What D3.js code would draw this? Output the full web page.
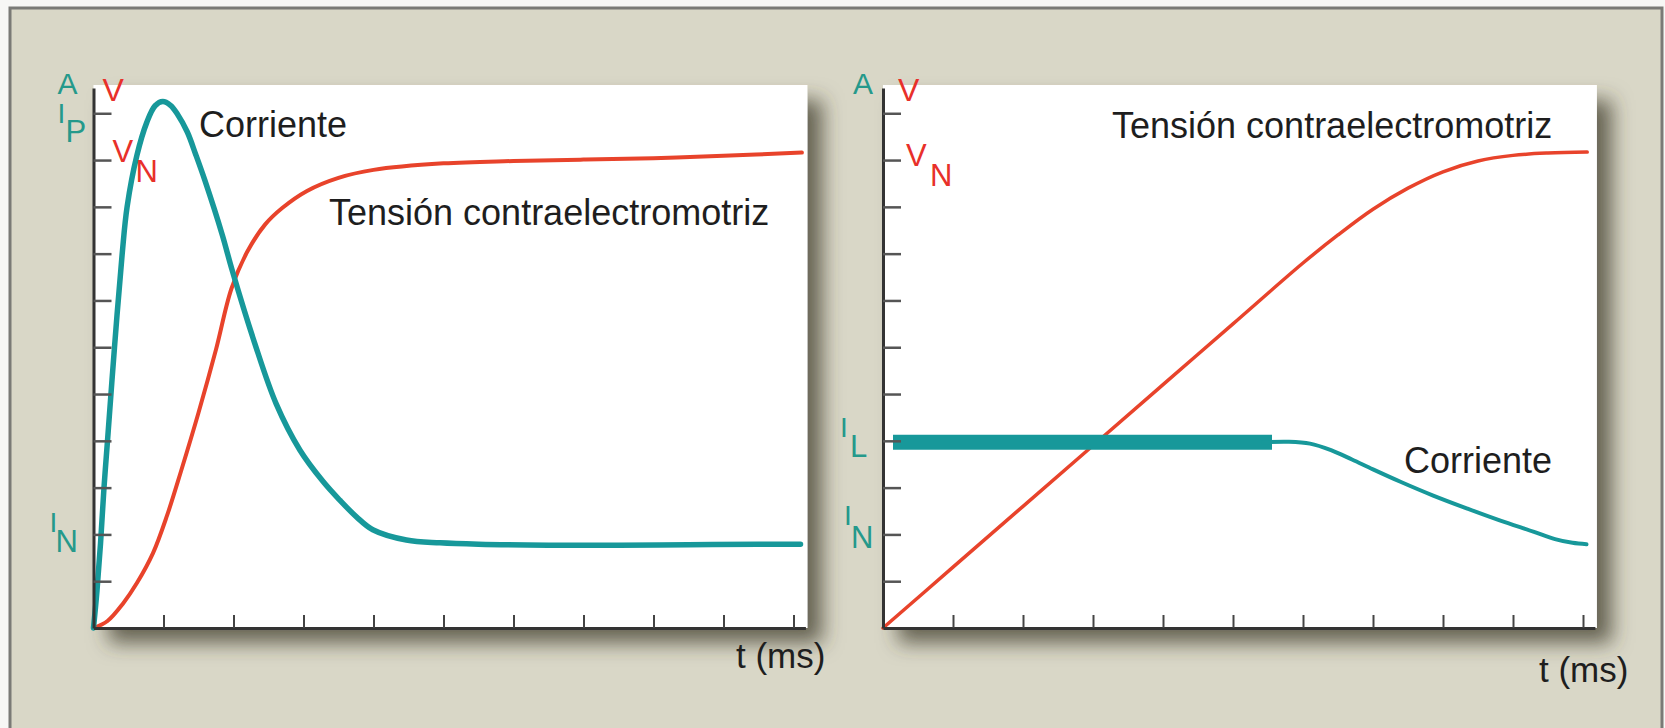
<!DOCTYPE html>
<html><head><meta charset="utf-8">
<script src="https://cdn.jsdelivr.net/npm/d3@7"></script>
<style>
body{margin:0;background:#f7f7f5;}
svg{display:block;}
text{font-family:"Liberation Sans",Arial,Helvetica,sans-serif;}
</style>
</head><body>
<svg id="c" width="1665" height="728"></svg>
<script>
// ---------------- data ----------------
const timeTicks = [1,2,3,4,5,6,7,8,9,10];
const levelTicks = [1,2,3,4,5,6,7,8,9,10,11];
const xAxisTitle = "t (ms)";
const curveNames = ["Corriente", "Tensión contraelectromotriz"];

// left panel: current with inrush peak, back-EMF rising
const leftCurrent = [
  [0,0],[0.05,0.8],[0.1,1.8],[0.15,3.0],[0.2,4.0],[0.3,6.0],[0.41,8.0],[0.48,9.0],
  [0.62,10.1],[0.76,10.8],[0.88,11.16],[0.99,11.25],[1.1,11.17],[1.2,10.98],
  [1.34,10.6],[1.46,10.12],[1.59,9.57],[1.84,8.4],[1.98,7.65],[2.3,6.1],[2.61,4.79],[2.95,3.8],
  [3.28,3.13],[3.52,2.73],[3.76,2.37],[3.99,2.1],[4.47,1.88],[4.95,1.82],[5.5,1.79],
  [6.5,1.77],[7.5,1.77],[8.5,1.78],[9.5,1.79],[10.1,1.79]
];
const leftVoltage = [
  [0,0],[0.2,0.15],[0.42,0.52],[0.62,0.96],[0.85,1.6],[1.05,2.4],[1.25,3.35],
  [1.5,4.6],[1.75,5.95],[1.97,7.25],[2.2,8.05],[2.45,8.62],[2.7,8.98],[3.05,9.34],
  [3.5,9.62],[4.0,9.79],[5.0,9.93],[6.0,9.98],[7.0,10.01],[8.0,10.04],[9.0,10.09],[10.12,10.16]
];

// right panel: limited current, back-EMF ramp
const rightVoltage = [
  [0,0],[1,1.3],[2,2.6],[3,3.9],[4,5.2],[5,6.5],[6,7.8],[6.5,8.4],[7,8.95],
  [7.5,9.4],[8,9.75],[8.5,9.98],[9,10.1],[9.5,10.15],[10.06,10.17]
];
const rightCurrentLimit = [[0.25,3.97],[5.45,3.97]];
const rightCurrent = [
  [5.43,3.97],[5.8,3.98],[6.1,3.94],[6.4,3.8],[6.7,3.6],[7.0,3.39],[7.4,3.12],
  [7.86,2.83],[8.35,2.55],[8.81,2.3],[9.29,2.06],[9.6,1.9],[9.85,1.82],[10.05,1.79]
];

// axis level labels: [main, sub, series, level]
const leftAxisLabels = [["I","P","current",11],["V","N","voltage",10],["I","N","current",2]];
const rightAxisLabels = [["V","N","voltage",10],["I","L","current",4],["I","N","current",2]];
const unitLabels = [["A","current"],["V","voltage"]];

// ---------------- drawing ----------------
const svg = d3.select("#c");
const colors = {current:"#17989a", voltage:"#e8432b"};
const labelColors = {current:"#25998b", voltage:"#e8302a"};

const defs = svg.append("defs");
const f = defs.append("filter").attr("id","sh").attr("x","-10%").attr("y","-10%").attr("width","130%").attr("height","130%");
f.append("feDropShadow").attr("dx",15).attr("dy",15).attr("stdDeviation",10)
  .attr("flood-color","#3f3d2e").attr("flood-opacity",0.75);

svg.append("rect").attr("x",10).attr("y",8).attr("width",1652).attr("height",740)
  .attr("fill","#d9d7c7").attr("stroke","#7a7a76").attr("stroke-width",3);

const y = d3.scaleLinear().domain([0,11.54]).range([628,88]);
const xMax = 10.17;

function panel(x0, opts){
  const x = d3.scaleLinear().domain([0,xMax]).range([x0, x0 + 70*xMax]);
  const g = svg.append("g");
  g.append("rect").attr("x",x0).attr("y",85).attr("width",x(xMax)-x0+2).attr("height",628-85)
    .attr("fill","#ffffff").attr("filter","url(#sh)");

  const line = d3.line().x(d=>x(d[0])).y(d=>y(d[1])).curve(d3.curveCatmullRom.alpha(0.5));
  opts.curves.forEach(c=>{
    g.append("path").datum(c.data).attr("d",line).attr("fill","none")
      .attr("stroke",colors[c.series]).attr("stroke-width",c.w)
      .attr("stroke-linecap",c.cap||"round").attr("stroke-linejoin","round");
  });

  // y axis
  const ya = g.append("g").attr("transform",`translate(${x0},0)`)
    .call(d3.axisRight(y).tickValues(levelTicks).tickSize(18).tickSizeOuter(0).tickFormat(""));
  ya.select(".domain").attr("stroke","#333").attr("stroke-width",3);
  ya.selectAll(".tick line").attr("stroke","#555").attr("stroke-width",2.5);
  // x axis
  const xa = g.append("g").attr("transform","translate(0,628)")
    .call(d3.axisTop(x).tickValues(timeTicks).tickSize(13).tickSizeOuter(0).tickFormat(""));
  xa.select(".domain").attr("stroke","#333").attr("stroke-width",3);
  xa.selectAll(".tick line").attr("stroke","#444").attr("stroke-width",2);

  // units
  g.append("text").attr("x",x0+opts.aDx).attr("y",94).attr("font-size",30)
    .attr("fill",labelColors[unitLabels[0][1]]).text(unitLabels[0][0]);
  g.append("text").attr("x",x0+opts.vDx).attr("y",101).attr("font-size",32)
    .attr("fill",labelColors[unitLabels[1][1]]).text(unitLabels[1][0]);

  opts.levels.forEach((L,i)=>{
    const o = opts.levelOffsets[i];
    const col = labelColors[L[2]];
    g.append("text").attr("x",x0+o[0]).attr("y",y(L[3])+o[1]).attr("font-size",L[0]==="I"?28:31)
      .attr("fill",col).text(L[0]);
    g.append("text").attr("x",x0+o[2]).attr("y",y(L[3])+o[3]).attr("font-size",31)
      .attr("fill",col).text(L[1]);
  });

  opts.texts.forEach(t=>{
    g.append("text").attr("x",t.x).attr("y",t.y).attr("font-size",t.s||36)
      .attr("fill","#1e1e1e").text(t.text);
  });
  return x;
}

panel(93.5, {
  curves:[{data:leftVoltage,series:"voltage",w:4},{data:leftCurrent,series:"current",w:5.5}],
  aDx:-36, vDx:9,
  levels:leftAxisLabels,
  levelOffsets:[[-36,10,-28,29],[19,2,42,22],[-44,-2,-38,18]],
  texts:[{text:curveNames[0],x:199,y:137},{text:curveNames[1],x:329,y:225},{text:xAxisTitle,x:736,y:668,s:35}]
});

panel(883, {
  curves:[{data:rightVoltage,series:"voltage",w:3.5},
          {data:rightCurrentLimit,series:"current",w:15,cap:"square"},
          {data:rightCurrent,series:"current",w:4}],
  aDx:-30, vDx:15,
  levels:rightAxisLabels,
  levelOffsets:[[23,6,47,26],[-43,-4,-33,16],[-39,-9,-32,14]],
  texts:[{text:curveNames[1],x:1112,y:138},{text:curveNames[0],x:1404,y:473},{text:xAxisTitle,x:1539,y:682,s:35}]
});
</script>
</body></html>
